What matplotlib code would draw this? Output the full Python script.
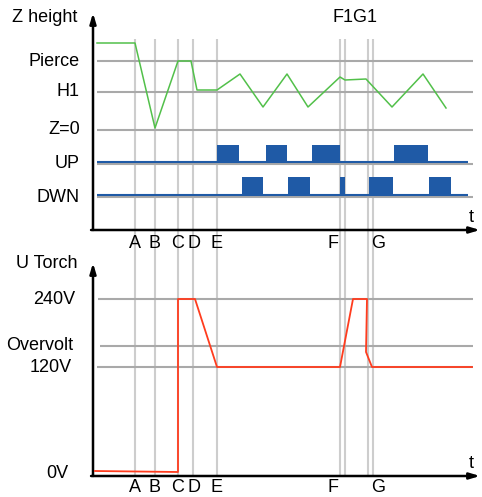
#!/usr/bin/env python3
# -*- coding: utf-8 -*-

"""
Torch height control timing diagram: Z height and torch voltage versus time.
"""

import matplotlib
matplotlib.use("Agg")
from matplotlib import pyplot as plt

plt.rcParams["font.family"] = ["Liberation Sans", "DejaVu Sans"]

# DATA ########################################################################

# event times (arbitrary time units)
event_names = ["A", "B", "C", "D", "E", "F", "F1", "G", "G1"]
event_times = [42, 62, 85, 100, 124, 247, 252, 275, 280]

# letters written under each time axis and where they sit
letter_names = ["A", "B", "C", "D", "E", "F", "G"]
letter_times = [42, 62, 85, 101, 124, 240, 285]

# Z height panel levels
z_names = ["Pierce", "H1", "Z=0", "UP", "DWN"]
z_levels = [69, 38, 0, -34, -67]

# torch Z height trace
z_t = [4, 42, 62, 85, 98, 104, 124, 147, 170, 194, 215, 247, 252, 273, 299, 330, 353]
z_h = [87, 87, 2, 69, 69, 40, 40, 56, 23, 56, 23, 53, 50, 51, 23, 56, 22]

# UP / DWN command pulses (start, stop)
up_start = [124, 173, 219, 301]
up_stop = [146, 194, 247, 335]
dwn_start = [149, 195, 247, 276, 336]
dwn_stop = [170, 217, 252, 300, 358]
up_base, up_top = -32, -15
dwn_base, dwn_top = -65, -47

# torch voltage panel levels
u_names = ["240V", "Overvolt", "120V", "0V"]
u_levels = [174, 127, 106, 0]

# torch voltage trace
u_t = [2, 85, 85, 102, 124, 247, 260, 274, 273, 279, 379]
u_v = [2, 1, 174, 174, 106, 106, 174, 174, 121, 106, 106]

# PLOT ########################################################################

W, H = 482, 497
fig = plt.figure(figsize=(W / 100, H / 100), dpi=100)

x0, x1 = 93, 480
top_y0, top_y1 = 13, 230
bot_y0, bot_y1 = 263, 476

ax_top = fig.add_axes([x0 / W, 1 - top_y1 / H, (x1 - x0) / W, (top_y1 - top_y0) / H])
ax_bot = fig.add_axes([x0 / W, 1 - bot_y1 / H, (x1 - x0) / W, (bot_y1 - bot_y0) / H])

grid_col = "#a9a9a9"
vline_col = "#cdcdcd"
fs = 13

for ax in (ax_top, ax_bot):
    ax.set_facecolor("none")
    ax.set_xlim(0, x1 - x0)
    for s in ax.spines.values():
        s.set_visible(False)
    ax.set_xticks([])
    ax.set_yticks([])
    # axes with arrow heads
    ax.annotate("", xy=(0, 1), xytext=(0, 0), xycoords="axes fraction",
                arrowprops=dict(arrowstyle="-|>,head_length=0.6,head_width=0.18",
                                color="black", lw=1.8, shrinkA=0, shrinkB=0))
    ax.annotate("", xy=(1, 0), xytext=(-0.005, 0), xycoords="axes fraction",
                arrowprops=dict(arrowstyle="-|>,head_length=0.6,head_width=0.18",
                                color="black", lw=1.8, shrinkA=0, shrinkB=0))

# top panel: y = 130 - pixel row
ax_top.set_ylim(130 - top_y1, 130 - top_y0)
# bottom panel: y = 473 - pixel row
ax_bot.set_ylim(473 - bot_y1, 473 - bot_y0)

# vertical event lines, running through both panels
for t in event_times:
    ax_top.vlines(t, 130 - bot_y1, 91, color=vline_col, lw=1.5, zorder=0, clip_on=False)

# Z height panel ###################
for name, lev in zip(z_names, z_levels):
    ax_top.hlines(lev, 4, 380, color=grid_col, lw=1.5, zorder=1)
    ax_top.text(-13, lev, name, ha="right", va="center", fontsize=fs,
                transform=ax_top.transData)

ax_top.plot(z_t, z_h, color="#52c04a", lw=1.1, zorder=3)

ax_top.hlines(up_base, 4, 375, color="#1f5aa6", lw=1.5, zorder=2)
ax_top.hlines(dwn_base, 4, 375, color="#1f5aa6", lw=1.5, zorder=2)
for a, b in zip(up_start, up_stop):
    ax_top.bar(a, up_top - up_base, width=b - a, bottom=up_base, align="edge",
               color="#1f5aa6", zorder=3)
for a, b in zip(dwn_start, dwn_stop):
    ax_top.bar(a, dwn_top - dwn_base, width=b - a, bottom=dwn_base, align="edge",
               color="#1f5aa6", zorder=3)

ax_top.text(-48, 130 - 17, "Z height", ha="center", va="center", fontsize=fs)
ax_top.text(262, 130 - 17, "F1G1", ha="center", va="center", fontsize=fs)
ax_top.text(378, 130 - 218, "t", ha="center", va="center", fontsize=fs)
for name, t in zip(letter_names, letter_times):
    ax_top.text(t, 130 - 244, name, ha="center", va="center", fontsize=fs, clip_on=False)

# U torch panel ####################
u_label_x = [-18, -20, -21, -25]
u_line_x0 = [5, 7, 4]
for name, lev, lx in zip(u_names, u_levels, u_label_x):
    ax_bot.text(lx, lev, name, ha="right", va="center", fontsize=fs)
for lev, lx0 in zip(u_levels[:3], u_line_x0):
    ax_bot.hlines(lev, lx0, 380, color=grid_col, lw=1.5, zorder=1)

ax_bot.plot(u_t, u_v, color="#ff3c1e", lw=1.3, zorder=3)

ax_bot.text(-46, 473 - 264, "U Torch", ha="center", va="center", fontsize=fs)
ax_bot.text(378, 473 - 463, "t", ha="center", va="center", fontsize=fs)
for name, t in zip(letter_names, letter_times):
    ax_bot.text(t, 473 - 488, name, ha="center", va="center", fontsize=fs, clip_on=False)

fig.savefig("out.png", dpi=100)
